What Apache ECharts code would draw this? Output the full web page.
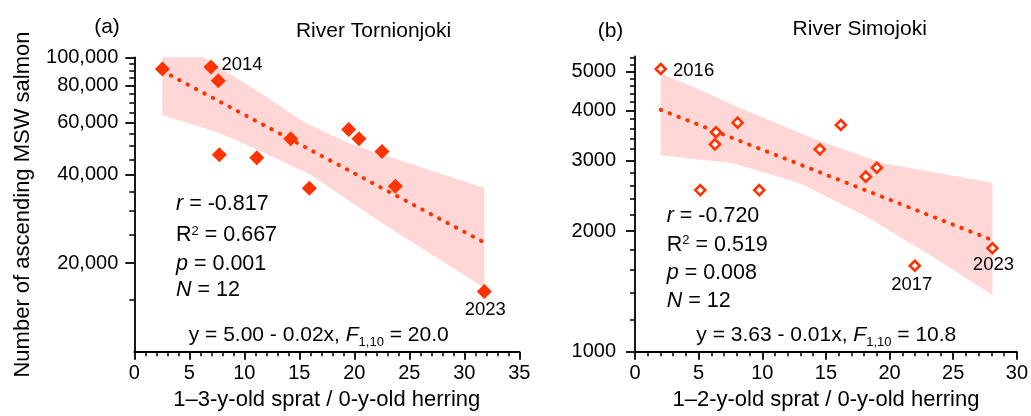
<!DOCTYPE html>
<html>
<head>
<meta charset="utf-8">
<script src="https://cdn.jsdelivr.net/npm/echarts@6/dist/echarts.min.js"></script>
<style>
  html, body { margin: 0; padding: 0; background: #fff; }
  #main { width: 1031px; height: 416px; }
</style>
</head>
<body>
<div id="main"></div>
<script>
// (a) River Tornionjoki
var tornX = [2.55, 6.97, 7.64, 7.73, 11.13, 14.22, 15.91, 19.49, 20.43, 22.52, 23.73, 31.82];
var tornY = [91200, 92700, 83200, 46700, 45600, 52900, 35900, 56800, 52900, 47900, 36500, 16000];
var tornYears = ['', '2014', '', '', '', '', '', '', '', '', '', '2023'];
var tornTrendX = [2.55, 31.8];
var tornTrendY = [89800, 23500];
var tornBandUpX = [2.55, 6.3, 12.0, 15.4, 19.6, 31.82];
var tornBandUpY = [100000, 100000, 73400, 60300, 50900, 36000];
var tornBandLoX = [2.55, 7.5, 10.5, 16.0, 22.6, 31.82];
var tornBandLoY = [63600, 55800, 49900, 40000, 27200, 16500];
var tornMajorTicks = [20000, 40000, 60000, 80000, 100000];
var tornMinorTicks = [15000, 25000, 30000, 35000, 45000, 50000, 55000, 65000, 70000, 75000, 85000, 90000, 95000];

// (b) River Simojoki
var simoX = [2.02, 6.36, 6.28, 8.06, 5.13, 9.76, 14.52, 16.17, 18.13, 19.0, 21.98, 28.08];
var simoY = [5070, 3525, 3290, 3725, 2530, 2530, 3197, 3675, 2732, 2876, 1638, 1811];
var simoYears = ['2016', '', '', '', '', '', '', '', '', '', '2017', '2023'];
var simoTrendX = [2.02, 27.95];
var simoTrendY = [4010, 1905];
var simoBandUpX = [2.02, 5.1, 8.0, 14.3, 19.5, 28.08];
var simoBandUpY = [4940, 4500, 4080, 3370, 2950, 2640];
var simoBandLoX = [2.02, 7.7, 12.95, 18.2, 23.4, 28.08];
var simoBandLoY = [3090, 2950, 2630, 2170, 1725, 1385];
var simoMajorTicks = [1000, 2000, 3000, 4000, 5000];
var simoMinorTicks = [1200, 1400, 1600, 1800, 2200, 2400, 2600, 2800, 3200, 3400, 3600, 3800, 4200, 4400, 4600, 4800, 5200, 5400];

var red = '#ff3300';
var pink = '#ffd7d7';
var font = "'Liberation Sans', Arial, sans-serif";

// where the year labels sit next to their points
var yearLabel = {
    '2014': { position: 'right', distance: 3, offset: [0, -2] },
    '2016': { position: 'right', distance: 6, offset: [0, 2] },
    '2017': { position: 'bottom', distance: 3, offset: [-3, 0] },
    '2023': { position: 'bottom', distance: 1, offset: [1, 0] }
};

function lg(v) { return Math.log10(v); }

function pairs(xs, ys)
{
    return xs.map(function (x, i) { return [x, lg(ys[i])]; });
}

function withCommas(n)
{
    return String(n).replace(/\B(?=(\d{3})+(?!\d))/g, ',');
}

function scatterData(xs, ys, years)
{
    return xs.map(function (x, i) {
        var item = { value: [x, lg(ys[i])] };
        if (years[i]) {
            var l = yearLabel[years[i]];
            item.label = {
                show: true, formatter: years[i], position: l.position, distance: l.distance,
                offset: l.offset, color: '#000', fontSize: 18.5, fontFamily: font
            };
        }
        return item;
    });
}

function bandSeries(idx, upX, upY, loX, loY)
{
    var pts = pairs(upX, upY).concat(pairs(loX, loY).reverse());
    return {
        type: 'custom', xAxisIndex: idx, yAxisIndex: idx * 2, silent: true, z: 1,
        data: [pts[0]],
        renderItem: function (params, api) {
            return {
                type: 'polygon',
                shape: { points: pts.map(function (p) { return api.coord(p); }) },
                style: { fill: pink }
            };
        }
    };
}

function trendSeries(idx, xs, ys)
{
    return {
        type: 'line', xAxisIndex: idx, yAxisIndex: idx * 2, silent: true, z: 2,
        data: pairs(xs, ys), symbol: 'none',
        lineStyle: { color: red, width: 4, type: [0.5, 9], cap: 'round' }
    };
}

function xAxis(grid, maxV, name)
{
    return {
        type: 'value', gridIndex: grid, min: 0, max: maxV, interval: 5,
        axisLine: { lineStyle: { color: '#000', width: 1.8 } },
        axisTick: { length: 8, lineStyle: { color: '#000', width: 1.8 } },
        minorTick: { show: true, splitNumber: 5, length: 4.5, lineStyle: { color: '#000', width: 1.5 } },
        axisLabel: { margin: 12, fontSize: 20, color: '#000', fontFamily: font },
        splitLine: { show: false },
        name: name, nameLocation: 'middle', nameGap: 37,
        nameTextStyle: { fontSize: 22, color: '#000', fontFamily: font }
    };
}

function yMajor(grid, minV, maxV, ticks, fmt, margin)
{
    return {
        type: 'value', gridIndex: grid, position: 'left', min: lg(minV), max: lg(maxV),
        axisLine: { show: true, lineStyle: { color: '#000', width: 1.8 } },
        axisTick: { show: true, length: 9, customValues: ticks.map(lg), lineStyle: { color: '#000', width: 1.8 } },
        axisLabel: { customValues: ticks.map(lg), formatter: fmt, margin: margin, fontSize: 20, color: '#000', fontFamily: font },
        splitLine: { show: false }
    };
}

function yMinor(grid, minV, maxV, ticks)
{
    return {
        type: 'value', gridIndex: grid, position: 'left', offset: 0, min: lg(minV), max: lg(maxV),
        axisLine: { show: false },
        axisTick: { show: true, length: 5, customValues: ticks.map(lg), lineStyle: { color: '#000', width: 1.5 } },
        axisLabel: { show: false },
        splitLine: { show: false }
    };
}

function text(x, y, str, size, align, rich)
{
    return {
        type: 'text', x: x, y: y, silent: true,
        style: {
            text: str, fill: '#000', fontSize: size, fontFamily: font,
            align: align, verticalAlign: 'middle', rich: rich || {}
        }
    };
}

var statRich = {
    i: { fontStyle: 'italic', fontSize: 21.5, fontFamily: font },
    sup: { fontSize: 13, lineHeight: 13, verticalAlign: 'top', fontFamily: font }
};
var eqRich = {
    i: { fontStyle: 'italic', fontSize: 21, lineHeight: 28, fontFamily: font },
    sub: { fontSize: 13, lineHeight: 13, verticalAlign: 'bottom', fontFamily: font }
};
function eqText(x, y, str)
{
    var t = text(x, y, str, 21, 'center', eqRich);
    t.style.lineHeight = 28;
    return t;
}

var tornY0 = yMajor(0, 10000, 100000, tornMajorTicks, function (v) { return withCommas(Math.round(Math.pow(10, v))); }, 16);
tornY0.name = 'Number of ascending MSW salmon';
tornY0.nameLocation = 'middle';
tornY0.nameGap = 100;
tornY0.nameTextStyle = { fontSize: 22, color: '#000', fontFamily: font };

var option = {
    animation: false,
    backgroundColor: '#fff',
    textStyle: { fontFamily: font },
    grid: [
        { left: 134.3, top: 57.3, width: 385, height: 294.4 },
        { left: 635, top: 56.4, width: 382.3, height: 295.3 }
    ],
    xAxis: [
        xAxis(0, 35, '1\u20133-y-old sprat / 0-y-old herring'),
        xAxis(1, 30, '1\u20132-y-old sprat / 0-y-old herring')
    ],
    yAxis: [
        tornY0,
        yMinor(0, 10000, 100000, tornMinorTicks),
        yMajor(1, 1000, 5450, simoMajorTicks, function (v) { return String(Math.round(Math.pow(10, v))); }, 19),
        yMinor(1, 1000, 5450, simoMinorTicks)
    ],
    series: [
        bandSeries(0, tornBandUpX, tornBandUpY, tornBandLoX, tornBandLoY),
        trendSeries(0, tornTrendX, tornTrendY),
        {
            type: 'scatter', xAxisIndex: 0, yAxisIndex: 0, z: 3,
            symbol: 'diamond', symbolSize: 15,
            itemStyle: { color: red, opacity: 1 },
            data: scatterData(tornX, tornY, tornYears)
        },
        bandSeries(1, simoBandUpX, simoBandUpY, simoBandLoX, simoBandLoY),
        trendSeries(1, simoTrendX, simoTrendY),
        {
            type: 'scatter', xAxisIndex: 1, yAxisIndex: 2, z: 3,
            symbol: 'diamond', symbolSize: 10,
            itemStyle: { color: '#fff', borderColor: red, borderWidth: 2.6, opacity: 1 },
            data: scatterData(simoX, simoY, simoYears)
        }
    ],
    graphic: [
        text(107, 27, '(a)', 21, 'center'),
        text(373.5, 31, 'River Tornionjoki', 21, 'center'),
        text(610.5, 31.5, '(b)', 21, 'center'),
        text(859.7, 29.5, 'River Simojoki', 21, 'center'),

        text(176, 204.5, '{i|r} = -0.817', 21.5, 'left', statRich),
        text(176, 235.5, 'R{sup|2} = 0.667', 21.5, 'left', statRich),
        text(176, 263.7, '{i|p} = 0.001', 21.5, 'left', statRich),
        text(176, 289.7, '{i|N} = 12', 21.5, 'left', statRich),
        eqText(318.7, 335, 'y = 5.00 - 0.02x, {i|F}{sub|1,10} = 20.0'),

        text(666.7, 216, '{i|r} = -0.720', 21.5, 'left', statRich),
        text(666.7, 245, 'R{sup|2} = 0.519', 21.5, 'left', statRich),
        text(666.7, 273, '{i|p} = 0.008', 21.5, 'left', statRich),
        text(666.7, 301.3, '{i|N} = 12', 21.5, 'left', statRich),
        eqText(826.3, 335, 'y = 3.63 - 0.01x, {i|F}{sub|1,10} = 10.8')
    ]
};

var myChart = echarts.init(document.getElementById('main'));
myChart.setOption(option);
</script>
</body>
</html>
